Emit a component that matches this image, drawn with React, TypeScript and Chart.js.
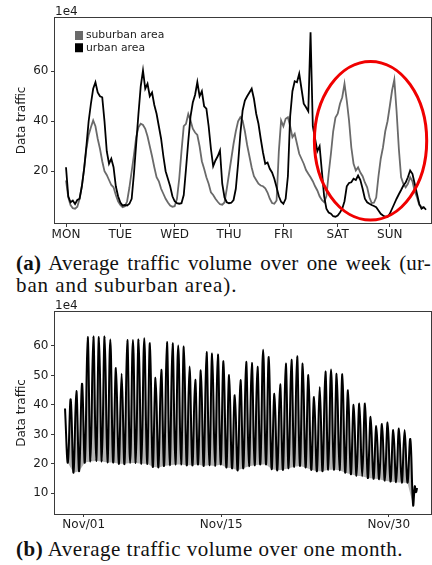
import React, { useEffect, useRef } from "react";
import { Chart, registerables } from "chart.js";

Chart.register(...registerables);

const AXIS_FONT = "'DejaVu Sans', sans-serif";
const INK = "#1c1c1c";
const FRAME = "#3a3a3a";

// ---- Weekly profile: hourly averages from Monday 00:00 (units of 1e4) ----
const weekDayLabels = ["MON", "TUE", "WED", "THU", "FRI", "SAT", "SUN"];
const weekTickHours = [0, 24, 48, 72, 96, 120, 143];
const weekYTicks = [20, 40, 60];

const urbanTraffic = [
  21.6, 10, 7.6, 8.3, 6.9, 8.5, 9, 14, 21, 30,
  40, 47, 53, 55.6, 51.5, 50, 49.6, 40, 28, 23,
  25, 21.6, 14, 10, 7.5, 6.3, 6.5, 6.3, 7, 9,
  19, 31, 43, 54, 60.3, 53, 55, 50, 51.5, 46.5,
  43, 38, 33, 26, 20, 17, 14, 10, 8, 7.2,
  7, 7.2, 10.5, 21, 32, 42, 47.5, 50.5, 55.6, 50,
  52, 46, 45, 38, 29, 22, 24.3, 26, 28.3, 15,
  9.5, 7.6, 7.2, 7.4, 8.5, 13, 23, 35, 44.3, 48.3,
  50, 51.5, 53, 49, 43, 39, 33, 27.5, 23, 23.5,
  21, 19.5, 17, 13.6, 10, 7.8, 7, 9, 18, 42,
  52, 56, 55.6, 59, 53, 47, 45.6, 44, 75.6, 38,
  33, 28, 30, 20, 10, 5, 3.5, 3, 2, 1.8,
  2.3, 3.5, 5, 8, 14, 15.3, 15.6, 17, 16.5, 18.3,
  16.5, 13, 9, 7.6, 7, 6.5, 6.1, 5.6, 4.3, 3,
  2.3, 1.8, 1.8, 3, 5, 7, 9, 10.8, 12.5, 14.3,
  15.5, 17.6, 20.3, 19, 15, 11, 7, 5, 5.6, 4.6,
];

const suburbanTraffic = [
  16.3, 9.6, 6.5, 5.2, 5, 5.8, 9, 14, 21, 29,
  34.5, 37.6, 40.3, 38, 33, 29, 24, 20, 18.5, 16.5,
  14.5, 13.6, 10.5, 8, 6.5, 5.6, 6, 8, 13.5, 20,
  26.5, 33.6, 37.6, 39, 38.5, 37, 34, 30, 26, 21.6,
  17.6, 16, 13, 11, 9, 7.5, 6.3, 5.8, 6, 9,
  17, 28, 38, 39, 42.9, 40.3, 37, 35.5, 34.5, 30,
  24, 21, 17.6, 15, 11.6, 10.5, 9, 7.8, 6.8, 6.6,
  7.5, 13, 19, 25, 31, 36, 40, 41.6, 40.3, 36,
  30.5, 26, 21.5, 18, 16.5, 15, 14.3, 14, 13.2, 11.5,
  9, 7.3, 7, 8.3, 28, 40.3, 38, 41, 41.6, 38,
  33.6, 35, 31, 27, 25, 23, 20.5, 19, 17.6, 16,
  14, 12.3, 10, 8.5, 7.6, 10, 19, 27, 36, 41.5,
  43, 47, 49.6, 55, 48.3, 40.3, 29.6, 23, 20.3, 21.6,
  19.5, 18, 15.5, 13.6, 9.6, 7.3, 7.4, 9.5, 18, 25,
  29.6, 36, 40, 46, 52.3, 56.6, 44, 29, 17.6, 15,
  13.6, 15, 17.6, 16, 12, 9.6, 6.5, 5.8, 5.4,
];

// Weekend highlight (hour, traffic) and its half-extents
const weekendCenter = [134.5, 32.2];
const weekendRadius = [24.8, 31.7];

// ---- Monthly series: one daily peak followed by its trough (units of 1e4) ----
const monthPeaks = [
  38.8, 41.9, 44.7, 47.2, 63, 63.2, 63, 63.2, 62.2, 52.5,
  50.6, 62, 62, 62.2, 62.6, 60.9, 49.2, 51.9, 61.3, 60.9,
  60.1, 59.8, 53, 48.5, 51.7, 57.9, 57.4, 57.1, 54.8, 50.1,
  43.3, 48.4, 54.6, 54.2, 52.9, 58.7, 56.2, 43.8, 47, 54,
  55.3, 56.5, 54, 50.1, 42.7, 46.1, 51.3, 52, 50.6, 50.4,
  45, 40, 40.5, 40.5, 36, 32.8, 33.5, 34, 31.5, 32,
  31.5, 28.4,
];
const monthTroughs = [
  20.4, 17, 17.5, 20.5, 20.8, 21, 20.8, 20.5, 20.5, 20,
  20, 20.3, 20.3, 20, 20, 19, 18.8, 19.3, 19.5, 19.8,
  19.8, 19.5, 19.5, 19.8, 19.3, 19.5, 19.3, 19.8, 18.8, 18.5,
  17.8, 18.5, 19.2, 19.5, 19.8, 19.8, 18.3, 17.8, 18, 18.5,
  19, 19.3, 18.8, 18, 17.5, 17.5, 18, 18, 17.8, 17,
  16.5, 16, 15.8, 15.2, 15, 14.8, 14.3, 14, 13.8, 13.6,
  13.6, 6,
];
const monthTailPos = [61.8, 62.0, 62.2];
const monthTailValues = [12.4, 10.4, 11.8];
const monthTickPos = [3.3, 27.6, 57.2];
const monthTickLabels = ["Nov/01", "Nov/15", "Nov/30"];
const monthYTicks = [10, 20, 30, 40, 50, 60];

// ---- shared pieces ----
const tickFont = { family: AXIS_FONT, size: 12, lineHeight: 1 };

const framePlugin = {
  id: "frame",
  afterDraw(chart: any) {
    const { ctx, chartArea: a } = chart;
    ctx.save();
    ctx.strokeStyle = FRAME;
    ctx.lineWidth = 1;
    ctx.strokeRect(a.left - 0.5, a.top - 0.5, a.right - a.left + 1, a.bottom - a.top + 1);
    ctx.restore();
  },
};

const weekendRing = {
  id: "weekendRing",
  afterDatasetsDraw(chart: any) {
    const { ctx } = chart;
    const xs = chart.scales.x;
    const ys = chart.scales.y;
    const cx = xs.getPixelForValue(weekendCenter[0]);
    const cy = ys.getPixelForValue(weekendCenter[1]);
    const rx = Math.abs(xs.getPixelForValue(weekendCenter[0] + weekendRadius[0]) - cx);
    const ry = Math.abs(ys.getPixelForValue(weekendCenter[1] + weekendRadius[1]) - cy);
    ctx.save();
    ctx.beginPath();
    ctx.ellipse(cx, cy, rx, ry, 0, 0, Math.PI * 2);
    ctx.strokeStyle = "#f00000";
    ctx.lineWidth = 3;
    ctx.stroke();
    ctx.restore();
  },
};

// places the in-plot legend near the upper-left corner
const legendNudge = {
  id: "legendNudge",
  afterLayout(chart: any) {
    const lg = chart.legend;
    if (!lg) return;
    lg.left = chart.chartArea.left + 20;
    lg.top = chart.chartArea.top + 10.5;
  },
};

function fixedTicks(values: number[]) {
  return (scale: any) => {
    scale.ticks = values.map((v) => ({ value: v }));
  };
}

function yAxis(min: number, max: number, values: number[]) {
  return {
    type: "linear",
    min,
    max,
    afterBuildTicks: fixedTicks(values),
    afterFit: (s: any) => {
      s.width = 55;
    },
    ticks: { padding: 2.5, color: INK, font: tickFont },
    grid: { display: true, drawOnChartArea: false, drawTicks: true, tickLength: 4, tickColor: FRAME },
    border: { display: false },
    title: {
      display: true,
      text: "Data traffic",
      color: INK,
      font: { family: AXIS_FONT, size: 12 },
      padding: { top: 14.3, bottom: 0 },
    },
  };
}

function xAxis(
  min: number,
  max: number,
  values: number[],
  labels: string[],
  height: number,
  tickLength: number,
  padding: number
) {
  return {
    type: "linear",
    min,
    max,
    afterBuildTicks: fixedTicks(values),
    afterFit: (s: any) => {
      s.height = height;
    },
    ticks: {
      autoSkip: false,
      maxRotation: 0,
      padding,
      color: INK,
      font: tickFont,
      callback: (_v: any, i: number) => labels[i],
    },
    grid: { display: true, drawOnChartArea: false, drawTicks: true, tickLength, tickColor: FRAME },
    border: { display: false },
  };
}

const exponentTitle = {
  display: true,
  text: "1e4",
  align: "start",
  fullSize: false,
  color: INK,
  font: { family: AXIS_FONT, size: 12, weight: "normal", lineHeight: 1 },
  padding: { top: 6, bottom: 0 },
};

function weekConfig(): any {
  return {
    type: "line",
    data: {
      datasets: [
        {
          label: "urban area",
          data: urbanTraffic.map((v, i) => ({ x: i, y: v })),
          borderColor: "#000000",
          backgroundColor: "#000000",
          borderWidth: 1.8,
          pointRadius: 0,
          tension: 0,
          fill: false,
        },
        {
          label: "suburban area",
          data: suburbanTraffic.map((v, i) => ({ x: i, y: v })),
          borderColor: "#6a6a6a",
          backgroundColor: "#6a6a6a",
          borderWidth: 1.8,
          pointRadius: 0,
          tension: 0,
          fill: false,
        },
      ],
    },
    options: {
      animation: false,
      responsive: false,
      maintainAspectRatio: false,
      events: [],
      layout: { padding: { left: 0, right: 1, top: 0, bottom: 0 } },
      scales: {
        x: xAxis(-4.86, 161.2, weekTickHours, weekDayLabels, 22, 4, 2),
        y: yAxis(-0.7, 81.3, weekYTicks),
      },
      plugins: {
        title: exponentTitle,
        tooltip: { enabled: false },
        legend: {
          display: true,
          position: "chartArea",
          align: "start",
          reverse: true,
          labels: {
            usePointStyle: true,
            pointStyle: "rect",
            boxWidth: 4,
            boxHeight: 9,
            padding: 1.5,
            color: INK,
            font: { family: AXIS_FONT, size: 10.8 },
            generateLabels: (chart: any) =>
              Chart.defaults.plugins.legend.labels
                .generateLabels(chart)
                .map((item: any) => ({ ...item, lineWidth: 0, pointStyle: "rect" })),
          },
        },
      },
    },
    plugins: [framePlugin, weekendRing, legendNudge],
  };
}

function monthConfig(): any {
  const points: { x: number; y: number }[] = [];
  monthPeaks.forEach((p, k) => {
    points.push({ x: k, y: p });
    points.push({ x: k + 0.5, y: monthTroughs[k] });
  });
  monthTailPos.forEach((x, i) => points.push({ x, y: monthTailValues[i] }));
  const floor = monthTroughs.map((t, k) => ({ x: k + 0.5, y: t }));

  return {
    type: "line",
    data: {
      datasets: [
        {
          label: "traffic",
          data: points,
          borderColor: "#000000",
          backgroundColor: "#b4b4b4",
          borderWidth: 2,
          pointRadius: 0,
          tension: 0.4,
          fill: 1,
        },
        {
          label: "daily low",
          data: floor,
          borderColor: "rgba(0,0,0,0)",
          backgroundColor: "rgba(0,0,0,0)",
          borderWidth: 1,
          pointRadius: 0,
          tension: 0,
          fill: false,
        },
      ],
    },
    options: {
      animation: false,
      responsive: false,
      maintainAspectRatio: false,
      events: [],
      layout: { padding: { left: 0, right: 1, top: 0, bottom: 0 } },
      scales: {
        x: xAxis(-1.77, 64.66, monthTickPos, monthTickLabels, 20, 3, 1.5),
        y: yAxis(3.0, 71.5, monthYTicks),
      },
      plugins: {
        title: exponentTitle,
        tooltip: { enabled: false },
        legend: { display: false },
      },
    },
    plugins: [framePlugin],
  };
}

function ChartCanvas({ build, top, height }: { build: () => any; top: number; height: number }) {
  const ref = useRef<HTMLCanvasElement | null>(null);
  useEffect(() => {
    if (!ref.current) return;
    const chart = new Chart(ref.current, build());
    return () => chart.destroy();
  }, [build]);
  return (
    <canvas
      ref={ref}
      width={432}
      height={height}
      style={{ position: "absolute", left: 0, top, width: 432, height, display: "block" }}
    />
  );
}

const captionStyle: React.CSSProperties = {
  position: "absolute",
  left: 16,
  fontFamily: "'Liberation Serif', 'Times New Roman', serif",
  fontSize: 21,
  lineHeight: "21.7px",
  color: "#111",
  margin: 0,
};

export default function App() {
  return (
    <div
      style={{
        position: "absolute",
        left: 0,
        top: 0,
        width: 432,
        height: 565,
        background: "#ffffff",
        overflow: "hidden",
      }}
    >
      <ChartCanvas build={weekConfig} top={0} height={245} />
      <div
        style={{
          ...captionStyle,
          top: 253,
          width: 415,
          letterSpacing: "0.2px",
          textAlign: "justify",
          textAlignLast: "justify",
        }}
      >
        <b>(a)</b> Average traffic volume over one week (ur-
      </div>
      <div style={{ ...captionStyle, top: 274.5, letterSpacing: "0.9px", whiteSpace: "nowrap" }}>
        ban and suburban area).
      </div>
      <ChartCanvas build={monthConfig} top={294} height={240} />
      <div style={{ ...captionStyle, top: 539, letterSpacing: "0.5px", whiteSpace: "nowrap" }}>
        <b>(b)</b> Average traffic volume over one month.
      </div>
    </div>
  );
}
